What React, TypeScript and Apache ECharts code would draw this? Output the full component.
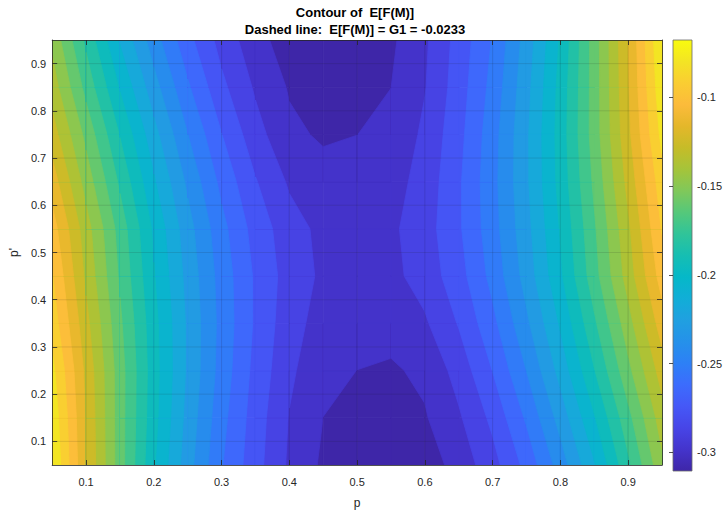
import React, { useEffect, useRef } from "react";
import * as echarts from "echarts";

// Grid of the surface (p along x, p' along y)
const pValues = [0.05, 0.1, 0.15, 0.2, 0.25, 0.3, 0.35, 0.4, 0.45, 0.5, 0.55, 0.6, 0.65, 0.7, 0.75, 0.8, 0.85, 0.9, 0.95];
const pPrimeValues = [0.05, 0.15, 0.25, 0.35, 0.45, 0.55, 0.65, 0.75, 0.85, 0.95];

// E[F(M)] values, one row per p' value
const row005 = [-0.0677, -0.114, -0.1548, -0.1935, -0.2247, -0.2519, -0.2715, -0.2893, -0.301, -0.309, -0.3105, -0.305, -0.2946, -0.2802, -0.2607, -0.2358, -0.2076, -0.1745, -0.14];
const row015 = [-0.071, -0.115, -0.155, -0.191, -0.222, -0.249, -0.27, -0.288, -0.299, -0.305, -0.3055, -0.3, -0.289, -0.273, -0.251, -0.225, -0.196, -0.164, -0.131];
const row025 = [-0.076, -0.117, -0.155, -0.19, -0.22, -0.246, -0.268, -0.285, -0.2965, -0.299, -0.3005, -0.2965, -0.283, -0.264, -0.241, -0.214, -0.184, -0.152, -0.12];
const row035 = [-0.084, -0.122, -0.158, -0.191, -0.22, -0.245, -0.266, -0.283, -0.292, -0.295, -0.2945, -0.289, -0.275, -0.256, -0.232, -0.205, -0.174, -0.142, -0.108];
const row045 = [-0.09, -0.128, -0.162, -0.194, -0.222, -0.246, -0.266, -0.281, -0.2895, -0.2935, -0.2905, -0.2825, -0.269, -0.249, -0.225, -0.197, -0.165, -0.132, -0.097];
const row055 = [-0.097, -0.132, -0.165, -0.197, -0.225, -0.249, -0.269, -0.2825, -0.2905, -0.2935, -0.2895, -0.281, -0.266, -0.246, -0.222, -0.194, -0.162, -0.128, -0.09];
const row065 = [-0.108, -0.142, -0.174, -0.205, -0.232, -0.256, -0.275, -0.289, -0.2945, -0.295, -0.292, -0.283, -0.266, -0.245, -0.22, -0.191, -0.158, -0.122, -0.084];
const row075 = [-0.12, -0.152, -0.184, -0.214, -0.241, -0.264, -0.283, -0.2965, -0.3005, -0.299, -0.2965, -0.285, -0.268, -0.246, -0.22, -0.19, -0.155, -0.117, -0.076];
const row085 = [-0.131, -0.164, -0.196, -0.225, -0.251, -0.273, -0.289, -0.3, -0.3055, -0.305, -0.299, -0.288, -0.27, -0.249, -0.222, -0.191, -0.155, -0.115, -0.071];
const row095 = [-0.14, -0.1745, -0.2076, -0.2358, -0.2607, -0.2802, -0.2946, -0.305, -0.3105, -0.309, -0.301, -0.2893, -0.2715, -0.2519, -0.2247, -0.1935, -0.1548, -0.114, -0.0677];
const zRows = [row005, row015, row025, row035, row045, row055, row065, row075, row085, row095];

const zMin = -0.3105;
const zMax = -0.0677;
const levelCount = 20;

const axisTicks = [0.1, 0.2, 0.3, 0.4, 0.5, 0.6, 0.7, 0.8, 0.9];
const colorbarTicks = [-0.3, -0.25, -0.2, -0.15, -0.1];

const titleLine1 = "Contour of  E[F(M)]";
const titleLine2 = "Dashed line:  E[F(M)] = G1 = -0.0233";

// parula colormap (approximate key stops)
const parulaStops: [number, number[]][] = [
  [0.0, [62, 38, 168]],
  [0.05, [68, 52, 204]],
  [0.1, [71, 69, 231]],
  [0.15, [69, 88, 247]],
  [0.2, [60, 108, 253]],
  [0.25, [45, 128, 246]],
  [0.3, [37, 145, 234]],
  [0.35, [32, 160, 224]],
  [0.4, [17, 174, 215]],
  [0.45, [5, 184, 200]],
  [0.5, [22, 190, 178]],
  [0.55, [48, 196, 153]],
  [0.6, [85, 200, 122]],
  [0.65, [128, 200, 90]],
  [0.7, [165, 196, 58]],
  [0.75, [198, 188, 40]],
  [0.8, [228, 183, 42]],
  [0.85, [252, 187, 59]],
  [0.9, [250, 205, 50]],
  [0.95, [243, 228, 36]],
  [1.0, [249, 251, 14]],
];

function parulaAt(t: number): string {
  const tt = Math.max(0, Math.min(1, t));
  for (let i = 0; i < parulaStops.length - 1; i++) {
    const [t0, c0] = parulaStops[i];
    const [t1, c1] = parulaStops[i + 1];
    if (tt <= t1) {
      const f = (tt - t0) / (t1 - t0);
      const c = c0.map((v, k) => Math.round(v + f * (c1[k] - v)));
      return `rgb(${c[0]},${c[1]},${c[2]})`;
    }
  }
  const c = parulaStops[parulaStops.length - 1][1];
  return `rgb(${c[0]},${c[1]},${c[2]})`;
}

const levelStep = (zMax - zMin) / (levelCount + 1);
const levels: number[] = [];
const bandColors: string[] = [];
for (let k = 0; k <= levelCount; k++) {
  levels.push(zMin + k * levelStep);
  bandColors.push(parulaAt(k / (levelCount + 1)));
}

type Pt = [number, number, number];
function clipAbove(poly: Pt[], thr: number): Pt[] {
  const out: Pt[] = [];
  for (let i = 0; i < poly.length; i++) {
    const a = poly[i];
    const b = poly[(i + 1) % poly.length];
    const ain = a[2] >= thr;
    const bin = b[2] >= thr;
    if (ain) out.push(a);
    if (ain !== bin) {
      const t = (thr - a[2]) / (b[2] - a[2]);
      out.push([a[0] + t * (b[0] - a[0]), a[1] + t * (b[1] - a[1]), thr]);
    }
  }
  return out;
}

const cellData: number[][] = [];
for (let j = 0; j < pPrimeValues.length - 1; j++) {
  for (let i = 0; i < pValues.length - 1; i++) {
    cellData.push([pValues[i], pPrimeValues[j], i, j]);
  }
}

const axisColor = "#262626";
const fontFamily = "Liberation Sans, Arial, sans-serif";

export default function App() {
  const ref = useRef<HTMLDivElement>(null);
  useEffect(() => {
    const chart = echarts.init(ref.current!, null, { renderer: "svg" });

    const contourItem = (params: any, api: any) => {
      const i = api.value(2) as number;
      const j = api.value(3) as number;
      const quad: Pt[] = [
        [pValues[i], pPrimeValues[j], zRows[j][i]],
        [pValues[i + 1], pPrimeValues[j], zRows[j][i + 1]],
        [pValues[i + 1], pPrimeValues[j + 1], zRows[j + 1][i + 1]],
        [pValues[i], pPrimeValues[j + 1], zRows[j + 1][i]],
      ];
      const zs = quad.map((q) => q[2]);
      const lo = Math.min(...zs);
      const hi = Math.max(...zs);
      let k0 = 0;
      for (let k = 1; k <= levelCount; k++) if (levels[k] <= lo) k0 = k;
      const children: any[] = [];
      const toPx = (poly: Pt[]) => poly.map((pt) => api.coord([pt[0], pt[1]]));
      children.push({
        type: "polygon",
        shape: { points: toPx(quad) },
        style: { fill: bandColors[k0], stroke: bandColors[k0], lineWidth: 0.8 },
      });
      for (let k = k0 + 1; k <= levelCount; k++) {
        if (levels[k] > hi) break;
        const c = clipAbove(quad, levels[k]);
        if (c.length >= 3) {
          children.push({
            type: "polygon",
            shape: { points: toPx(c) },
            style: { fill: bandColors[k], stroke: bandColors[k], lineWidth: 0.8 },
          });
        }
      }
      return { type: "group", children };
    };

    const gridItem = (params: any, api: any) => {
      const children: any[] = [];
      for (const t of axisTicks) {
        const a = api.coord([t, 0.05]);
        const b = api.coord([t, 0.95]);
        children.push({ type: "line", shape: { x1: a[0], y1: a[1], x2: b[0], y2: b[1] }, style: { stroke: "rgba(30,30,30,0.13)", lineWidth: 1 } });
        const c = api.coord([0.05, t]);
        const d = api.coord([0.95, t]);
        children.push({ type: "line", shape: { x1: c[0], y1: c[1], x2: d[0], y2: d[1] }, style: { stroke: "rgba(30,30,30,0.13)", lineWidth: 1 } });
      }
      return { type: "group", children };
    };

    const colorbarItem = (params: any, api: any) => {
      const p0 = api.coord([0, zMin]);
      const p1 = api.coord([1, zMax]);
      const stops = parulaStops.map(([t, c]) => ({ offset: t, color: `rgb(${c[0]},${c[1]},${c[2]})` }));
      return {
        type: "rect",
        shape: { x: p0[0], y: p1[1], width: p1[0] - p0[0], height: p0[1] - p1[1] },
        style: {
          fill: new echarts.graphic.LinearGradient(0, 1, 0, 0, stops),
          stroke: "#6b6b6b",
          lineWidth: 0.8,
        },
      };
    };

    const tickLabelStyle = { fontSize: 11, color: axisColor, fontFamily };

    const mainAxisCommon = {
      type: "value" as const,
      min: 0.05,
      max: 0.95,
      gridIndex: 0,
      z: 5,
      axisLine: { show: true, lineStyle: { color: axisColor, width: 0.8 } },
      axisTick: { show: true, inside: true, length: 5, customValues: axisTicks, lineStyle: { color: axisColor, width: 0.8 } },
      splitLine: { show: false },
    };

    chart.setOption({
      animation: false,
      backgroundColor: "#ffffff",
      textStyle: { fontFamily },
      grid: [
        { left: 48, top: 40, width: 614, height: 431 },
        { left: 673, top: 40, width: 19, height: 431 },
      ],
      xAxis: [
        {
          ...mainAxisCommon,
          position: "bottom",
          axisLabel: { ...tickLabelStyle, margin: 11, customValues: axisTicks },
          name: "p",
          nameLocation: "middle",
          nameGap: 32,
          nameTextStyle: { fontSize: 12, color: axisColor, fontFamily },
        },
        { ...mainAxisCommon, position: "top", axisLabel: { show: false } },
        { type: "value", gridIndex: 1, min: 0, max: 1, show: false },
      ],
      yAxis: [
        {
          ...mainAxisCommon,
          position: "left",
          axisLabel: { ...tickLabelStyle, margin: 6, customValues: axisTicks },
          name: "p'",
          nameLocation: "middle",
          nameGap: 31,
          nameRotate: 90,
          nameTextStyle: { fontSize: 12, color: axisColor, fontFamily },
        },
        { ...mainAxisCommon, position: "right", axisLabel: { show: false } },
        {
          type: "value",
          gridIndex: 1,
          min: zMin,
          max: zMax,
          position: "right",
          z: 5,
          axisLine: { show: false },
          axisTick: { show: true, inside: true, length: 4, customValues: colorbarTicks, lineStyle: { color: axisColor, width: 0.8 } },
          axisLabel: { ...tickLabelStyle, margin: 5, customValues: colorbarTicks },
          splitLine: { show: false },
        },
      ],
      series: [
        {
          type: "custom",
          name: "contour",
          coordinateSystem: "cartesian2d",
          xAxisIndex: 0,
          yAxisIndex: 0,
          clip: true,
          z: 2,
          renderItem: contourItem,
          data: cellData,
          silent: true,
        },
        {
          type: "custom",
          name: "grid",
          coordinateSystem: "cartesian2d",
          xAxisIndex: 0,
          yAxisIndex: 0,
          z: 3,
          renderItem: gridItem,
          data: [[0.5, 0.5]],
          silent: true,
        },
        {
          type: "custom",
          name: "colorbar",
          coordinateSystem: "cartesian2d",
          xAxisIndex: 2,
          yAxisIndex: 2,
          z: 2,
          renderItem: colorbarItem,
          data: [[0.5, -0.2]],
          silent: true,
        },
      ],
      graphic: [
        {
          type: "text",
          x: 355,
          y: 12,
          style: { text: titleLine1, textAlign: "center", textVerticalAlign: "middle", fontSize: 13, fontWeight: "bold", fontFamily, fill: "#000" },
        },
        {
          type: "text",
          x: 355,
          y: 29,
          style: { text: titleLine2, textAlign: "center", textVerticalAlign: "middle", fontSize: 13, fontWeight: "bold", fontFamily, fill: "#000" },
        },
      ],
    });
    return () => chart.dispose();
  }, []);
  return <div ref={ref} style={{ position: "fixed", left: 0, top: 0, width: 726, height: 514, background: "#fff" }} />;
}
